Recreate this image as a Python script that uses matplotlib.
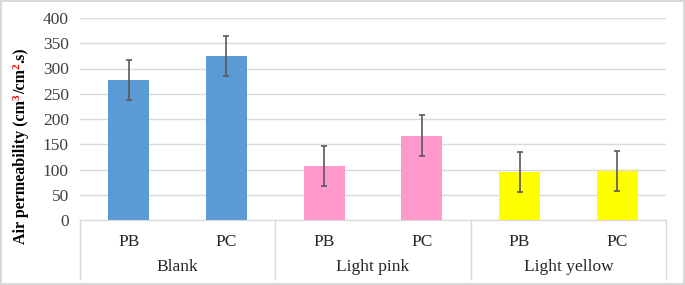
import matplotlib.pyplot as plt
from matplotlib.lines import Line2D
import matplotlib.transforms as mtransforms

# Dados
grupos = ['Blank', 'Light pink', 'Light yellow']
amostras = ['PB', 'PC', 'PB', 'PC', 'PB', 'PC']
valores = [277, 325, 107, 167, 95, 97]
erros = [40, 40, 40, 40, 40, 40]
cores = ['#5B9BD5', '#5B9BD5', '#FF99CC', '#FF99CC', '#FFFF00', '#FFFF00']

plt.rcParams['font.family'] = ['Liberation Serif', 'DejaVu Serif']

fig = plt.figure(figsize=(6.85, 2.85), dpi=100)
fig.patch.set_edgecolor('#d9d9d9')
fig.patch.set_linewidth(1.5)
ax = fig.add_axes([80 / 685, 1 - 220 / 285, 586 / 685, 202 / 285])

pos = list(range(len(valores)))
ax.bar(pos, valores, width=0.42, color=cores, zorder=2)
ax.errorbar(pos, valores, yerr=erros, fmt='none', ecolor='#595959',
            elinewidth=1.2, capsize=2.5, capthick=1.2, zorder=3)

ax.set_xlim(-0.5, 5.5)
ax.set_ylim(0, 400)
ax.set_yticks(range(0, 401, 50))
ax.yaxis.grid(True, color='#d9d9d9', linewidth=1, zorder=0)
ax.set_axisbelow(True)
for s in ['left', 'right', 'top']:
    ax.spines[s].set_visible(False)
ax.spines['bottom'].set_color('#d9d9d9')
ax.tick_params(axis='y', length=0, pad=8, labelsize=12.5, labelcolor='#404040')
ax.set_xticks(pos)
ax.set_xticklabels(amostras)
ax.tick_params(axis='x', length=0, pad=10, labelsize=12.5, labelcolor='#262626')

# Rótulos dos grupos e separadores
trans = mtransforms.blended_transform_factory(ax.transData, ax.transAxes)
for i, g in enumerate(grupos):
    ax.text(2 * i + 0.5, -0.235, g, transform=trans, ha='center', va='center',
            fontsize=12.5, color='#262626')
for xs in [-0.5, 1.5, 3.5, 5.5]:
    ax.add_line(Line2D([xs, xs], [0, -0.29], transform=trans, color='#d9d9d9',
                       linewidth=1, clip_on=False))

# Rótulo do eixo y com expoentes em vermelho
fs = 11.5
t1 = fig.text(21 / 685, 1 - 244 / 285, 'Air permeability (cm', rotation=90,
              ha='center', va='bottom', fontsize=fs, fontweight='bold')
s1 = ax.annotate('3', xy=(0, 1), xycoords=t1, xytext=(-0.5, 0), textcoords='offset points',
                 rotation=90, ha='left', va='bottom', fontsize=8,
                 fontweight='bold', color='red', annotation_clip=False)
t2 = ax.annotate('/cm', xy=(0.5, 1), xycoords=(t1, s1), rotation=90,
                 ha='center', va='bottom', fontsize=fs, fontweight='bold',
                 annotation_clip=False)
s2 = ax.annotate('2', xy=(0, 1), xycoords=(t1, t2), xytext=(-0.5, 0), textcoords='offset points',
                 rotation=90, ha='left', va='bottom', fontsize=8,
                 fontweight='bold', color='red', annotation_clip=False)
t3 = ax.annotate('.s)', xy=(0.5, 1), xycoords=(t1, s2), xytext=(0, 0.5),
                 textcoords='offset points', rotation=90,
                 ha='center', va='bottom', fontsize=fs, fontweight='bold',
                 annotation_clip=False)

fig.savefig('out.png', dpi=100)
